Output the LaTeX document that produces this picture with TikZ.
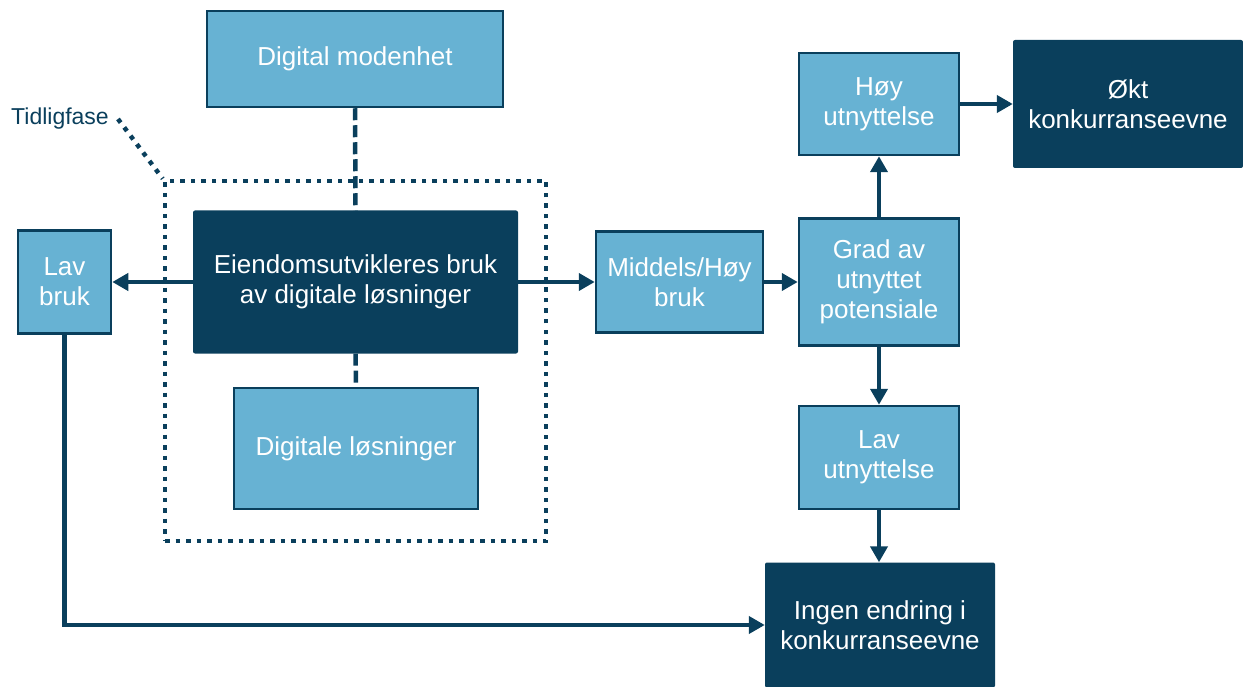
\documentclass[tikz,border=0pt]{standalone}
\usepackage{fontspec}
\setmainfont{Liberation Sans}
\usetikzlibrary{arrows.meta}
\definecolor{navy}{HTML}{0A3F5C}
\definecolor{sky}{HTML}{67B2D3}
\tikzset{
  lightbox/.style={draw=navy, line width=2.5pt, fill=sky, text=white, inner sep=0pt,
    align=center, font=\fontsize{26}{30}\selectfont},
  darkbox/.style={fill=navy, text=white, inner sep=0pt, rounded corners=2pt,
    align=center, font=\fontsize{26}{30}\selectfont},
  arr/.style={draw=navy, line width=4.5pt, -{Triangle[length=16pt,width=17pt]}},
  link/.style={draw=navy, line width=4.5pt, dash pattern=on 12pt off 5pt},
  dotline/.style={draw=navy, line width=4.5pt, dash pattern=on 4.5pt off 6pt},
}
\begin{document}
\begin{tikzpicture}[x=1pt, y=-1pt]
\useasboundingbox (0,0) rectangle (1243,687);

% early-phase frame
\node[dotline, minimum width=381pt, minimum height=360pt, inner sep=0pt] (tidlig) at (355.5,361) {};
\node[text=navy, font=\fontsize{23}{27}\selectfont, inner sep=0pt, anchor=west] (tlabel) at (11,119) {Tidligfase};
\draw[dotline] ([xshift=9pt]tlabel.east) -- (tidlig.north west);

% boxes
\node[lightbox, minimum width=296pt, minimum height=96pt] (dm) at (355,59) {Digital modenhet};
\node[darkbox, minimum width=325pt, minimum height=143pt] (eu) at (355.5,282) {Eiendomsutvikleres bruk\\av digitale løsninger};
\node[lightbox, minimum width=244pt, minimum height=121pt] (dl) at (356,448.5) {Digitale løsninger};
\node[lightbox, minimum width=93pt, minimum height=103pt] (lb) at (64.5,282) {Lav\\bruk};
\node[lightbox, minimum width=167pt, minimum height=101pt] (mh) at (679.5,282) {Middels/Høy\\bruk};
\node[lightbox, minimum width=160pt, minimum height=127pt] (gp) at (879,282) {Grad av\\utnyttet\\potensiale};
\node[lightbox, minimum width=160pt, minimum height=102pt] (hu) at (879,104) {Høy\\utnyttelse};
\node[darkbox, minimum width=230pt, minimum height=128pt] (okt) at (1128,104) {Økt\\konkurranseevne};
\node[lightbox, minimum width=160pt, minimum height=103pt] (lu) at (879,457.5) {Lav\\utnyttelse};
\node[darkbox, minimum width=230pt, minimum height=125pt] (ie) at (880,625) {Ingen endring i\\konkurranseevne};

% links
\draw[link] (dm.south) -- (eu.north);
\draw[link] (eu.south) -- (dl.north);
\draw[arr] (eu.west) -- (lb.east);
\draw[arr] (eu.east) -- (mh.west);
\draw[arr] (mh.east) -- (gp.west);
\draw[arr] (gp.north) -- (hu.south);
\draw[arr] (hu.east) -- (hu.east -| okt.west);
\draw[arr] (gp.south) -- (lu.north);
\draw[arr] (lu.south) -- (lu.south |- ie.north);
\draw[arr] (lb.south) |- (ie.west);
\end{tikzpicture}
\end{document}
